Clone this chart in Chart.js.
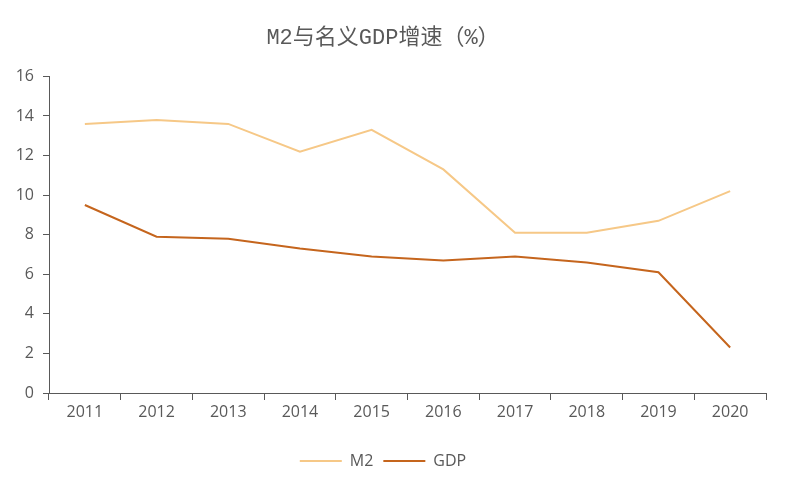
<!DOCTYPE html>
<html>
<head>
<meta charset="utf-8">
<script src="https://cdn.jsdelivr.net/npm/chart.js@4"></script>
<style>
  html, body { margin: 0; padding: 0; background: #fff; }
  #wrap { width: 789px; height: 489px; }
</style>
</head>
<body>
<div id="wrap"><canvas id="chart"></canvas></div>
<script>
var years = ['2011', '2012', '2013', '2014', '2015', '2016', '2017', '2018', '2019', '2020'];
var m2 = [13.6, 13.8, 13.6, 12.2, 13.3, 11.3, 8.1, 8.1, 8.7, 10.2];
var gdp = [9.5, 7.9, 7.8, 7.3, 6.9, 6.7, 6.9, 6.6, 6.1, 2.3];
var yTicks = [0, 2, 4, 6, 8, 10, 12, 14, 16];

var axisColor = '#595959';
var tickFont = { family: "'Open Sans', 'Noto Sans', sans-serif", size: 16 };

new Chart(document.getElementById('chart'), {
    type: 'line',
    data: {
        labels: years,
        datasets: [{
            label: 'M2',
            data: m2,
            borderColor: '#F6C887',
            backgroundColor: '#F6C887',
            borderWidth: 2,
            pointRadius: 0,
            tension: 0,
            fill: false
        }, {
            label: 'GDP',
            data: gdp,
            borderColor: '#C5651D',
            backgroundColor: '#C5651D',
            borderWidth: 2,
            pointRadius: 0,
            tension: 0,
            fill: false
        }]
    },
    options: {
        responsive: true,
        maintainAspectRatio: false,
        animation: false,
        layout: { padding: { left: 0, right: 23, top: 4, bottom: 10 } },
        plugins: {
            title: {
                display: true,
                text: 'M2与名义GDP增速（%）',
                color: axisColor,
                font: { family: "'Liberation Mono', 'Noto Sans CJK SC', monospace", size: 22, weight: 'normal' },
                padding: { top: 21, bottom: 25 }
            },
            legend: {
                position: 'bottom',
                labels: {
                    color: axisColor,
                    font: tickFont,
                    usePointStyle: true,
                    pointStyle: 'line',
                    pointStyleWidth: 42,
                    padding: 10
                }
            },
            tooltip: { enabled: false }
        },
        scales: {
            x: {
                offset: true,
                grid: {
                    offset: true,
                    drawOnChartArea: false,
                    drawTicks: true,
                    tickLength: 7,
                    color: axisColor
                },
                border: { color: axisColor, width: 1 },
                ticks: { color: axisColor, font: tickFont, padding: 3, maxRotation: 0 },
                afterFit: function (scale) { scale.height = 50; }
            },
            y: {
                min: 0,
                max: 16,
                afterBuildTicks: function (scale) {
                    scale.ticks = yTicks.map(function (v) { return { value: v }; });
                },
                grid: {
                    drawOnChartArea: false,
                    drawTicks: true,
                    tickLength: 6,
                    color: axisColor
                },
                border: { color: axisColor, width: 1 },
                ticks: { color: axisColor, font: tickFont, padding: 9 },
                afterFit: function (scale) { scale.width = 49; }
            }
        }
    }
});
</script>
</body>
</html>
